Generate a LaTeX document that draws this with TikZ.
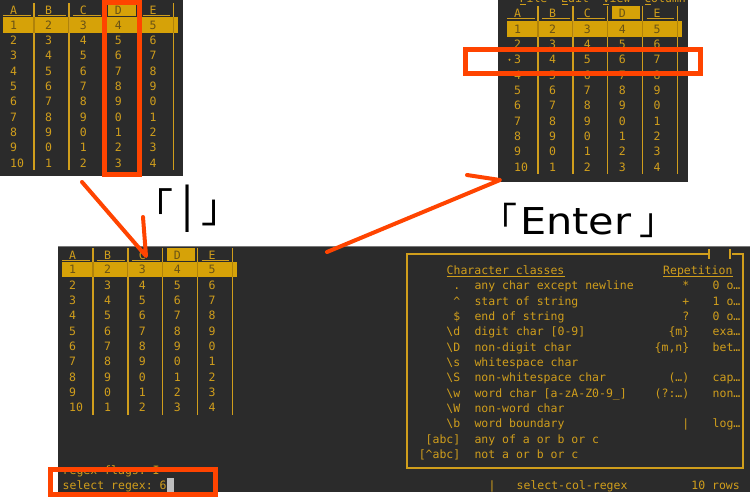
\documentclass[tikz,border=0pt]{standalone}
\usepackage{fontspec}
\setmonofont{DejaVu Sans Mono}
\newfontfamily\cjk{Noto Sans CJK JP}
\newfontfamily\labfont{DejaVu Sans}
\definecolor{term}{RGB}{43,43,43}
\definecolor{amb}{RGB}{208,158,28}
\definecolor{hl}{RGB}{214,162,8}
\definecolor{hltext}{RGB}{105,82,22}
\definecolor{hlsepc}{RGB}{175,130,10}
\definecolor{mark}{RGB}{255,68,0}
\definecolor{cursorc}{RGB}{190,190,190}
\definecolor{edgec}{RGB}{120,120,120}
\tikzset{
  cell/.style={font=\ttfamily\fontsize{11.5}{12}\selectfont, text=amb, inner sep=0pt, anchor=base west},
  cellr/.style={cell, anchor=base east},
  sepline/.style={draw=amb, line width=1.3},
  hlsep/.style={draw=hlsepc, line width=1.1},
  uline/.style={draw=amb, line width=0.9},
  redbox/.style={draw=mark, line width=5},
  arrowline/.style={draw=mark, line width=4, line cap=round, line join=round},
  label/.style={inner sep=0pt, anchor=base west, text=black},
}
\newcommand\drawtbl[4]{%
  \pgfmathsetmacro\hy{#2}%
  \pgfmathsetmacro\ry{#3}%
  \pgfmathsetmacro\rb{#3+15.33*9+7.5}%
  \fill[hl] ({#1-31},{\ry-7.7}) rectangle ({#1+144},{\ry+7.7});
  \fill[hl] ({#1+73.7},{\hy-7}) rectangle ({#1+101.5},{\hy+5.5});
  \foreach \k in {0,...,4} {
    \draw[sepline] ({#1+34.85*\k},{\hy-7}) -- ({#1+34.85*\k},\rb);
    \draw[hlsep] ({#1+34.85*\k},{\ry-7.7}) -- ({#1+34.85*\k},{\ry+7.7});
  }
  \foreach \k in {0,1,2,4} {
    \draw[uline] ({#1+34.85*(\k-1)+4},{\hy+5.5}) -- ({#1+34.85*\k-3},{\hy+5.5});
  }
  \foreach \k/\L in {0/A,1/B,2/C,3/D,4/E} {
    \def\tc{amb}\ifnum\k=3 \def\tc{hltext}\fi
    \node[cell, text=\tc] (#4h\k) at ({#1-24+34.85*\k},{\hy+4.2}) {\L};
  }
  \foreach \r in {1,...,10} {
    \foreach \c in {0,...,4} {
      \pgfmathtruncatemacro\v{ifthenelse(\c==0,\r,mod(\r+\c,10))}
      \def\tc{amb}\ifnum\r=1 \def\tc{hltext}\fi
      \node[cell, text=\tc] (#4r\r-\c) at ({#1-24+34.85*\c},{\ry+15.33*(\r-1)+4.2}) {\v};
    }
  }
}
\newcommand\helpL[3]{%
  \pgfmathsetmacro\yy{270.3+15.33*#1+4.2}%
  \node[cellr] (hla#1) at (460.5,\yy) {#2};
  \node[cell] (hlb#1) at (474.3,\yy) {#3};
}
\newcommand\helpR[3]{%
  \pgfmathsetmacro\yy{270.3+15.33*#1+4.2}%
  \node[cellr] (hlc#1) at (689.5,\yy) {#2};
  \node[cell] (hld#1) at (712.5,\yy) {#3};
}
\begin{document}
\begin{tikzpicture}[x=1pt,y=-1pt]
\useasboundingbox (0,0) rectangle (750,496);
\fill[white] (0,0) rectangle (750,496);
% ---------- top-left screenshot
\fill[term] (0,0) rectangle (183,176);
\drawtbl{34}{10}{25}{tl}
\draw[redbox] (104,2.5) rectangle (139.5,174.5);
% ---------- top-right screenshot
\begin{scope}
\clip (498,0) rectangle (688,182);
\fill[term] (498,0) rectangle (688,182);
\node[cell] (menu) at (519.5,2.5) {File\ \ Edit\ \ View\ \ Column};
\foreach \u in {519.5,561.2,602.9,644.6} \draw[uline] (\u+0.5,4.8) -- (\u+6.5,4.8);
\drawtbl{538}{13}{29}{tr}
\fill[amb] (509.5,59.7) circle (1.1);
\end{scope}
\draw[redbox] (465.5,49) rectangle (700,73.5);
% ---------- bottom screenshot
\fill[term] (58,246) rectangle (750,492);
\draw[edgec, line width=1] (58,246.5) -- (750,246.5);
\drawtbl{93}{255}{269.5}{bt}
% help box
\draw[amb, line width=1.2] (709,254) -- (407,254) -- (407,468) -- (743,468) -- (743,254) -- (732,254);
\draw[amb, line width=1.2] (709,249) -- (709,259);
\draw[amb, line width=1.2] (730,249) -- (730,259);
\node[cell] (hh1) at (446.5,274.5) {Character classes};
\draw[uline] (hh1.base west) ++(0,1.8) -- ++(118,0);
\node[cell] (hh2) at (663,274.5) {Repetition};
\draw[uline] (hh2.base west) ++(0,1.8) -- ++(69.5,0);
\helpL{1}{.}{any char except newline}
\helpL{2}{\textasciicircum}{start of string}
\helpL{3}{\$}{end of string}
\helpL{4}{\textbackslash d}{digit char [0-9]}
\helpL{5}{\textbackslash D}{non-digit char}
\helpL{6}{\textbackslash s}{whitespace char}
\helpL{7}{\textbackslash S}{non-whitespace char}
\helpL{8}{\textbackslash w}{word char [a-zA-Z0-9\_]}
\helpL{9}{\textbackslash W}{non-word char}
\helpL{10}{\textbackslash b}{word boundary}
\helpL{11}{[abc]}{any of a or b or c}
\helpL{12}{[\textasciicircum abc]}{not a or b or c}
\helpR{1}{*}{0 o…}
\helpR{2}{+}{1 o…}
\helpR{3}{?}{0 o…}
\helpR{4}{\{m\}}{exa…}
\helpR{5}{\{m,n\}}{bet…}
\helpR{7}{(…)}{cap…}
\helpR{8}{(?:…)}{non…}
\helpR{10}{|}{log…}
% status lines
\node[cell] (flags) at (62.5,474.5) {regex flags: I};
\node[cell] (sel) at (62.5,489.8) {select regex: 6};
\fill[cursorc] (166.8,477.5) rectangle (173.6,492);
\node[cell] (bar) at (488.5,489.8) {|};
\node[cell] (mode) at (516.5,489.8) {select-col-regex};
\node[cellr] (rows) at (740,489.8) {10 rows};
\draw[redbox] (50.5,469) rectangle (215.5,494.5);
% ---------- labels
\node[label, font=\fontsize{40}{40}\selectfont] (k1) at (133,222.6) {{\cjk 「}\kern2pt{\labfont │}\kern2pt{\cjk 」}};
\node[label, font=\fontsize{37}{37}\selectfont] (k2) at (480,234) {{\cjk 「}\kern3pt{\labfont\scalebox{1.12}[1]{Enter}}\kern8pt{\cjk 」}};
% ---------- arrows
\coordinate (a1s) at (82,182);
\coordinate (a1t) at (146,256);
\coordinate (a1b) at (143,217);
\coordinate (a2s) at (327,252);
\coordinate (a2t) at (500,180);
\coordinate (a2b) at (467,175);
\draw[arrowline] (a1s) -- (a1t) -- (a1b);
\draw[arrowline] (a2s) -- (a2t) -- (a2b);
\end{tikzpicture}
\end{document}
